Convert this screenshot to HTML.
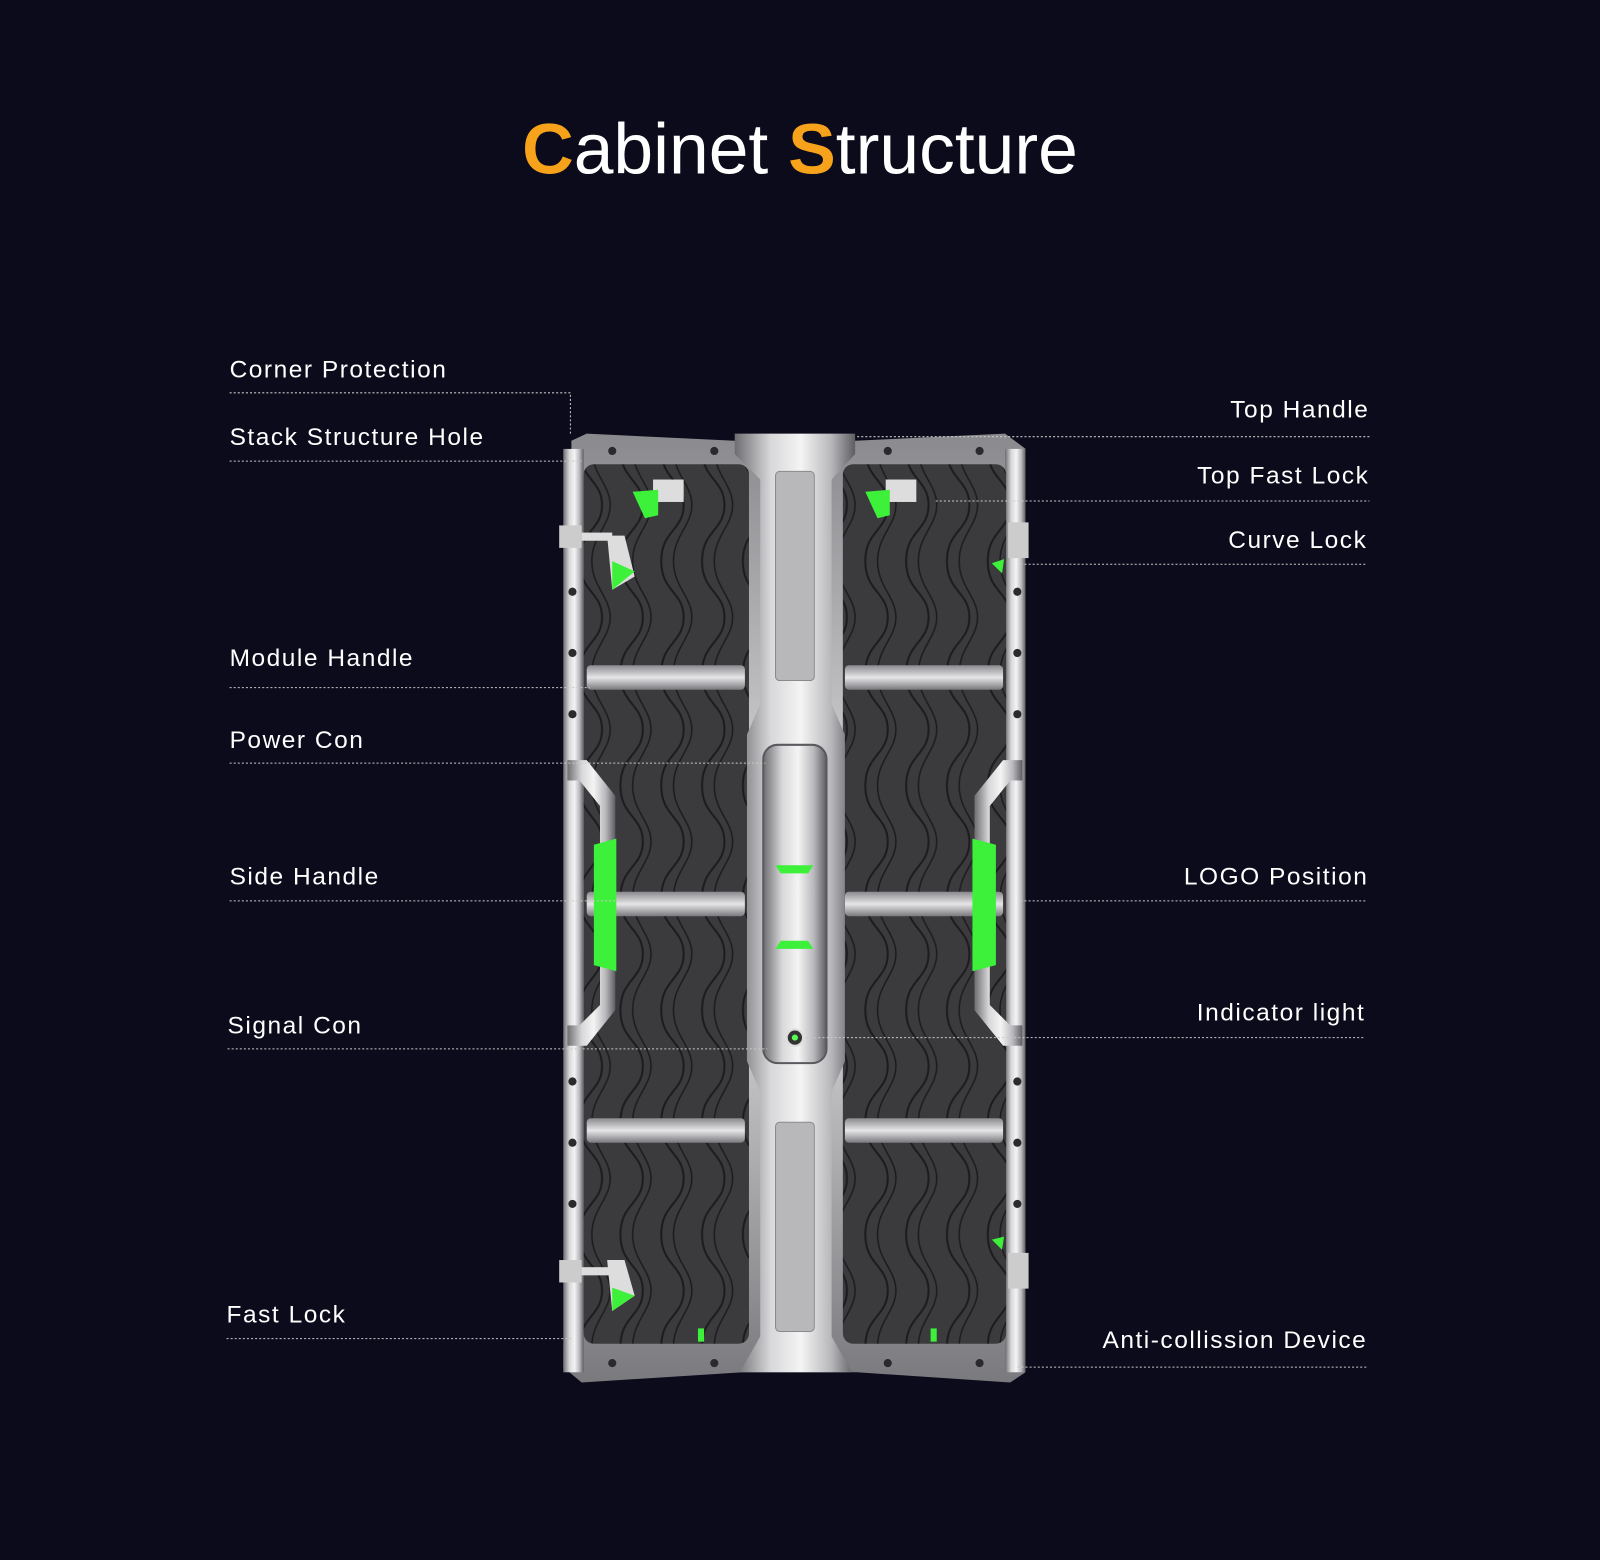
<!DOCTYPE html>
<html><head><meta charset="utf-8"><style>
html,body{margin:0;padding:0;background:#0b0b1b;}
svg{display:block}
</style></head><body>
<svg width="1600" height="1560" viewBox="0 0 1568 1529" preserveAspectRatio="none" xmlns="http://www.w3.org/2000/svg">
<defs>
<linearGradient id="met" x1="0" x2="1" y1="0" y2="0">
<stop offset="0" stop-color="#6e6e72"/><stop offset="0.3" stop-color="#d8d8da"/><stop offset="0.55" stop-color="#f4f4f4"/><stop offset="0.8" stop-color="#b8b8bc"/><stop offset="1" stop-color="#5e5e62"/></linearGradient>
<linearGradient id="metv" x1="0" x2="0" y1="0" y2="1">
<stop offset="0" stop-color="#8a8a8e"/><stop offset="0.5" stop-color="#e6e6e8"/><stop offset="1" stop-color="#7a7a7e"/></linearGradient>
<pattern id="wave" width="40" height="110" patternUnits="userSpaceOnUse">
<rect width="40" height="110" fill="#3b3b3d"/>
<path d="M8 0 C8 30 30 30 30 55 C30 80 8 80 8 110" stroke="#1c1c1e" stroke-width="2" fill="none"/>
<path d="M20 0 C20 25 38 35 38 55 C38 75 20 85 20 110" stroke="#1c1c1e" stroke-width="1.5" fill="none"/>
</pattern>
</defs>
<rect width="1568" height="1529" fill="#0b0b1b"/>
<text x="784" y="170" text-anchor="middle" font-family="Liberation Sans, sans-serif" font-size="70" fill="#ffffff"><tspan fill="#f7a21b" font-weight="bold">C</tspan>abinet <tspan fill="#f7a21b" font-weight="bold">S</tspan>tructure</text>

<g>
<path d="M560 432 L575 425 L720 432 L838 432 L985 425 L1005 440 L1005 1345 L990 1355 L840 1345 L728 1345 L570 1355 L552 1340 Z" fill="url(#metv)"/>
<rect x="552" y="440" width="20" height="905" fill="url(#met)"/>
<rect x="985" y="440" width="20" height="905" fill="url(#met)"/>
<rect x="572" y="455" width="162" height="862" rx="10" fill="url(#wave)"/>
<rect x="826" y="455" width="160" height="862" rx="10" fill="url(#wave)"/>
<g fill="#2a2a2c">
<circle cx="561" cy="580" r="4"/><circle cx="561" cy="640" r="4"/><circle cx="561" cy="700" r="4"/><circle cx="561" cy="1060" r="4"/><circle cx="561" cy="1120" r="4"/><circle cx="561" cy="1180" r="4"/>
<circle cx="997" cy="580" r="4"/><circle cx="997" cy="640" r="4"/><circle cx="997" cy="700" r="4"/><circle cx="997" cy="1060" r="4"/><circle cx="997" cy="1120" r="4"/><circle cx="997" cy="1180" r="4"/>
<circle cx="600" cy="442" r="4"/><circle cx="700" cy="442" r="4"/><circle cx="870" cy="442" r="4"/><circle cx="960" cy="442" r="4"/>
<circle cx="600" cy="1336" r="4"/><circle cx="700" cy="1336" r="4"/><circle cx="870" cy="1336" r="4"/><circle cx="960" cy="1336" r="4"/>
</g>
<g fill="url(#metv)">
<rect x="575" y="652" width="155" height="24" rx="4"/><rect x="828" y="652" width="155" height="24" rx="4"/>
<rect x="575" y="874" width="155" height="24" rx="4"/><rect x="828" y="874" width="155" height="24" rx="4"/>
<rect x="575" y="1096" width="155" height="24" rx="4"/><rect x="828" y="1096" width="155" height="24" rx="4"/>
</g>
<path d="M556 745 L575 745 L603 780 L603 990 L575 1025 L556 1025 L556 1005 L568 1005 L588 985 L588 790 L568 765 L556 765Z" fill="url(#met)"/>
<path d="M1002 745 L983 745 L955 780 L955 990 L983 1025 L1002 1025 L1002 1005 L990 1005 L970 985 L970 790 L990 765 L1002 765Z" fill="url(#met)"/>
<path d="M582 828 L604 822 L604 952 L582 946Z" fill="#3df03a"/>
<path d="M976 828 L953 822 L953 952 L976 946Z" fill="#3df03a"/>
<path d="M720 425 L838 425 L838 445 L815 470 L815 690 L828 720 L828 1040 L815 1070 L815 1310 L835 1345 L725 1345 L745 1310 L745 1070 L732 1040 L732 720 L745 690 L745 470 L720 445Z" fill="url(#met)"/>
<rect x="760" y="462" width="38" height="205" rx="4" fill="#b8b8bb" stroke="#8a8a8d"/>
<rect x="760" y="1100" width="38" height="205" rx="4" fill="#b8b8bb" stroke="#8a8a8d"/>
<rect x="748" y="730" width="62" height="312" rx="14" fill="url(#met)" stroke="#5a5a5e" stroke-width="2"/>
<path d="M760 848 L797 848 L792 856 L765 856Z" fill="#3df03a"/>
<path d="M765 922 L792 922 L797 930 L760 930Z" fill="#3df03a"/>
<circle cx="779" cy="1017" r="8" fill="#333" stroke="#ddd" stroke-width="2"/><circle cx="779" cy="1017" r="3" fill="#5f5"/>
<g>
<rect x="640" y="470" width="30" height="22" fill="#ddd"/><path d="M620 482 L645 480 L645 505 L632 508Z" fill="#3df03a"/>
<rect x="868" y="470" width="30" height="22" fill="#ddd"/><path d="M848 482 L872 480 L872 505 L860 508Z" fill="#3df03a"/>
<rect x="548" y="515" width="22" height="22" fill="#ccc"/><rect x="570" y="522" width="30" height="8" fill="#ddd"/><path d="M595 525 L612 525 L622 565 L600 578Z" fill="#ddd"/><path d="M600 550 L622 560 L600 578Z" fill="#3df03a"/>
<rect x="548" y="1235" width="22" height="22" fill="#ccc"/><rect x="570" y="1242" width="30" height="8" fill="#ddd"/><path d="M595 1235 L612 1235 L622 1270 L600 1285Z" fill="#ddd"/><path d="M600 1262 L622 1270 L600 1285Z" fill="#3df03a"/>
<rect x="988" y="512" width="20" height="35" fill="#ccc"/><path d="M972 552 L984 548 L982 562Z" fill="#3df03a"/>
<rect x="988" y="1228" width="20" height="35" fill="#ccc"/><path d="M972 1215 L984 1212 L982 1225Z" fill="#3df03a"/>
<path d="M684 1302 L690 1302 L690 1315 L684 1315Z" fill="#3df03a"/><path d="M912 1302 L918 1302 L918 1315 L912 1315Z" fill="#3df03a"/>
</g>
</g>

<g font-family="Liberation Sans, sans-serif" font-size="24" fill="#ffffff" letter-spacing="1.5">
<text x="225" y="370">Corner Protection</text>
<text x="225" y="436">Stack Structure Hole</text>
<text x="225" y="653">Module Handle</text>
<text x="225" y="733">Power Con</text>
<text x="225" y="867">Side Handle</text>
<text x="223" y="1013">Signal Con</text>
<text x="222" y="1296">Fast Lock</text>
<g text-anchor="end">
<text x="1342" y="409">Top Handle</text>
<text x="1342" y="474">Top Fast Lock</text>
<text x="1340" y="537">Curve Lock</text>
<text x="1341" y="867">LOGO Position</text>
<text x="1338" y="1000">Indicator light</text>
<text x="1340" y="1321">Anti-collission Device</text>
</g>
</g>
<g stroke="#c8c8c8" stroke-width="1" stroke-dasharray="2 2" fill="none">
<path d="M225 385 H559 V425"/>
<path d="M225 452 H570"/>
<path d="M225 674 H578"/>
<path d="M225 748 H750"/>
<path d="M225 883 H610"/>
<path d="M223 1028 H752"/>
<path d="M222 1312 H560"/>
<path d="M840 428 H1342"/>
<path d="M917 491 H1342"/>
<path d="M1000 553 H1340"/>
<path d="M1000 883 H1340"/>
<path d="M790 1017 H1338"/>
<path d="M997 1340 H1340"/>
</g>
</svg>
</body></html>
